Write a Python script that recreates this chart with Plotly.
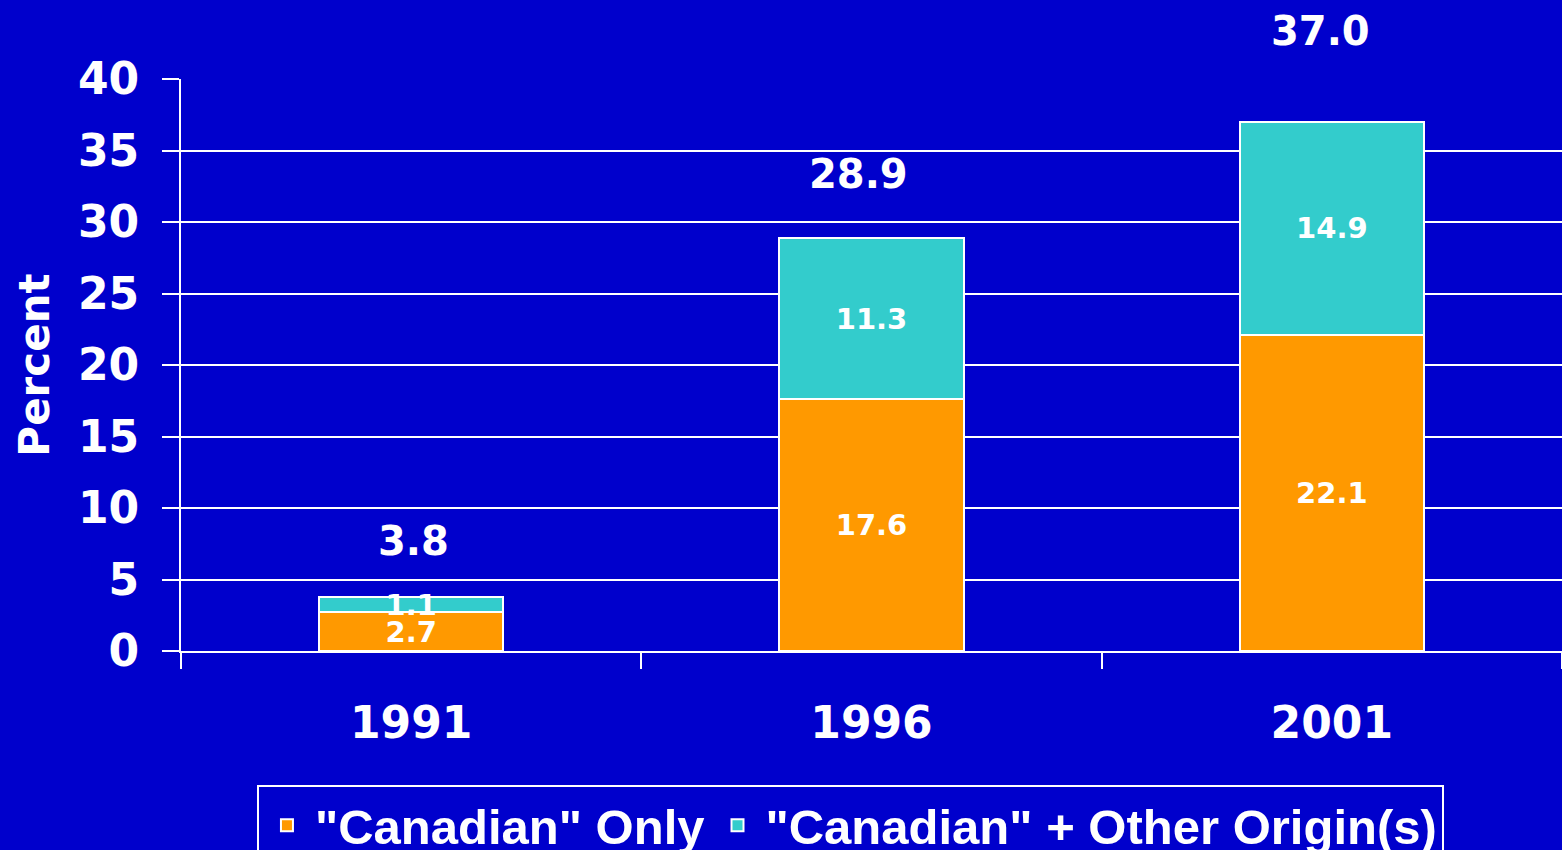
import plotly.graph_objects as go

years = ["1991", "1996", "2001"]
canadian_only = [2.7, 17.6, 22.1]
canadian_plus = [1.1, 11.3, 14.9]
totals = [3.8, 28.9, 37.0]
series_names = ['"Canadian" Only', '"Canadian" + Other Origin(s)']

BG = "#0000CC"
ORANGE = "#FF9900"
TEAL = "#33CCCC"
WHITE = "#FFFFFF"
MAIN_FONT = "DejaVu Sans"

fig = go.Figure()
for name, vals, col in [(series_names[0], canadian_only, ORANGE),
                        (series_names[1], canadian_plus, TEAL)]:
    fig.add_trace(go.Bar(
        x=years, y=vals, name=name,
        marker=dict(color=col, line=dict(color=WHITE, width=2)),
        text=[f"{v:.1f}" for v in vals],
        textposition="inside", insidetextanchor="middle",
        textfont=dict(family=MAIN_FONT, size=29, color=WHITE, weight="bold"),
        constraintext="none",
        hoverinfo="skip",
    ))

label_shift = [56, 64, 91]
label_xshift = [2, -13, -11]
for i, (tot, ys, xs) in enumerate(zip(totals, label_shift, label_xshift)):
    fig.add_annotation(x=i, xref="x", y=tot, yref="y", text=f"{tot:.1f}", showarrow=False,
                       yshift=ys, xshift=xs, yanchor="middle",
                       font=dict(family=MAIN_FONT, size=40, color=WHITE, weight="bold"))

fig.update_layout(
    width=1562, height=850,
    barmode="stack", bargap=0.6,
    paper_bgcolor=BG, plot_bgcolor=BG,
    margin=dict(l=181, r=0, t=79, b=199, autoexpand=False),
    uniformtext=dict(mode="show", minsize=29),
    showlegend=True,
    legend=dict(orientation="h", x=0.055, xanchor="left", y=-0.234, yanchor="top",
                bordercolor=WHITE, borderwidth=2, bgcolor=BG, itemwidth=46,
                font=dict(family="Liberation Sans", size=49, color=WHITE, weight="bold"),
                traceorder="normal", itemclick=False, valign="top"),
    xaxis=dict(type="category", range=[-0.5, 2.5], showline=True, linecolor=WHITE, linewidth=2,
               ticks="outside", tickson="boundaries", ticklen=16, tickwidth=2, tickcolor=WHITE,
               ticklabelstandoff=32, showgrid=False,
               tickfont=dict(family=MAIN_FONT, size=44, color=WHITE, weight="bold")),
    yaxis=dict(range=[0, 40], dtick=5, showline=True, linecolor=WHITE, linewidth=2,
               showgrid=True, gridcolor=WHITE, gridwidth=2, zeroline=False,
               ticks="outside", ticklen=17, tickwidth=2, tickcolor=WHITE,
               ticklabelstandoff=14,
               tickfont=dict(family=MAIN_FONT, size=44, color=WHITE, weight="bold"),
               title=dict(text="Percent", standoff=15,
                          font=dict(family=MAIN_FONT, size=42, color=WHITE, weight="bold"))),
)

fig.write_html("out.html", config={"displayModeBar": False},
               post_script="document.body.style.margin='0';document.body.style.overflow='hidden';")
